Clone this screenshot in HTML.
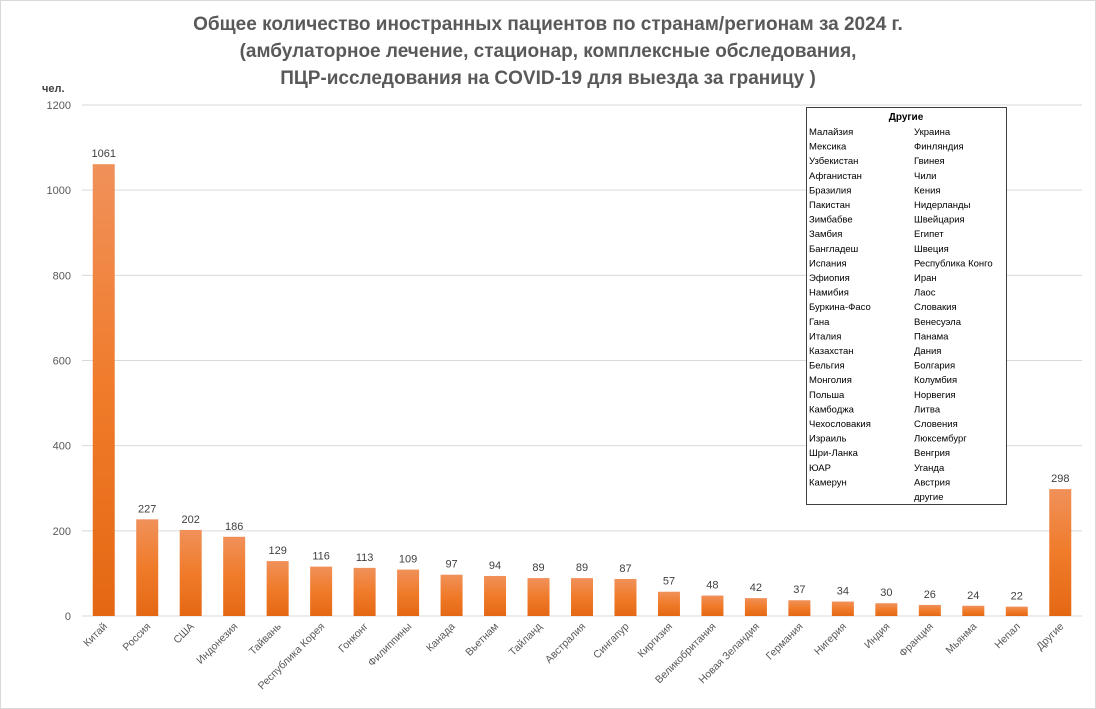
<!DOCTYPE html>
<html><head><meta charset="utf-8"><style>
body{margin:0;background:#fff;}
svg{display:block;font-family:"Liberation Sans","DejaVu Sans",sans-serif;}
</style></head><body>
<svg id="chart" width="1096" height="709">
<defs><linearGradient id="g" x1="0" y1="0" x2="0" y2="1"><stop offset="0" stop-color="#f0915a"/><stop offset="0.5" stop-color="#f07b2a"/><stop offset="1" stop-color="#e46814"/></linearGradient></defs>
<rect x="0.5" y="0.5" width="1095" height="708" fill="#fff" stroke="#d9d9d9"/>
<g font-weight="bold" font-size="19" fill="#595959" text-anchor="middle">
<text x="548" y="30">Общее количество иностранных пациентов по странам/регионам за 2024 г.</text>
<text x="548" y="57">(амбулаторное лечение, стационар, комплексные обследования,</text>
<text x="548" y="84">ПЦР-исследования на COVID-19 для выезда за границу )</text>
</g>
<text x="42" y="92" font-size="11" font-weight="bold" fill="#404040">чел.</text>
<g id="grid"></g><g id="bars"></g>
<g>
<rect x="806.5" y="107.5" width="200" height="397" fill="#fff" stroke="#404040"/>
<text x="906" y="120" font-size="10" font-weight="bold" text-anchor="middle" fill="#000">Другие</text>
<g id="others" font-size="9.5" fill="#000"></g>
</g>
</svg>
<script>
const categories=["Китай","Россия","США","Индонезия","Тайвань","Республика Корея","Гонконг","Филиппины","Канада","Вьетнам","Тайланд","Австралия","Сингапур","Киргизия","Великобритания","Новая Зеландия","Германия","Нигерия","Индия","Франция","Мьянма","Непал","Другие"];
const values=[1061,227,202,186,129,116,113,109,97,94,89,89,87,57,48,42,37,34,30,26,24,22,298];
const yTicks=[0,200,400,600,800,1000,1200];
const othersLeft=["Малайзия","Мексика","Узбекистан","Афганистан","Бразилия","Пакистан","Зимбабве","Замбия","Бангладеш","Испания","Эфиопия","Намибия","Буркина-Фасо","Гана","Италия","Казахстан","Бельгия","Монголия","Польша","Камбоджа","Чехословакия","Израиль","Шри-Ланка","ЮАР","Камерун"];
const othersRight=["Украина","Финляндия","Гвинея","Чили","Кения","Нидерланды","Швейцария","Египет","Швеция","Республика Конго","Иран","Лаос","Словакия","Венесуэла","Панама","Дания","Болгария","Колумбия","Норвегия","Литва","Словения","Люксембург","Венгрия","Уганда","Австрия","другие"];
const NS="http://www.w3.org/2000/svg";
const x0=82,x1=1082,yTop=105,yBot=616,ymax=1200;
const y=v=>yBot-(v/ymax)*(yBot-yTop);
const step=(x1-x0)/categories.length;
const xc=i=>x0+step*(i+0.5);
function mk(t,a,p,txt){const e=document.createElementNS(NS,t);for(const k in a)e.setAttribute(k,a[k]);if(txt!==undefined)e.textContent=txt;p.appendChild(e);return e;}
const grid=document.getElementById('grid');
yTicks.forEach(t=>{
 const l=mk('line',{x1:x0,x2:x1,y1:y(t),y2:y(t),stroke:'#d9d9d9','stroke-width':1},grid);
 
 
 const tx=mk('text',{x:71,y:y(t)+4,'font-size':11,fill:'#595959','text-anchor':'end'},grid,t);
 
 
});
const bars=document.getElementById('bars');
const bw=22;
categories.forEach((c,i)=>{
 const r=mk('rect',{x:xc(i)-bw/2,y:y(values[i]),width:bw,height:yBot-y(values[i]),fill:'url(#g)'},bars);
 
 
 const v=mk('text',{x:xc(i),y:y(values[i])-7,'font-size':11,fill:'#404040','text-anchor':'middle'},bars,values[i]);
 
 
 const cx=xc(i)+4,cy=627;
 const lb=mk('text',{x:cx,y:cy,'font-size':10.5,fill:'#595959','text-anchor':'end',transform:`rotate(-45 ${cx} ${cy})`},bars,c);
 
 
});
const og=document.getElementById('others');
othersLeft.forEach((n,i)=>{const t=mk('text',{x:809,y:135+i*14.6},og,n);});
othersRight.forEach((n,i)=>{const t=mk('text',{x:914,y:135+i*14.6},og,n);});
</script>
</body></html>
